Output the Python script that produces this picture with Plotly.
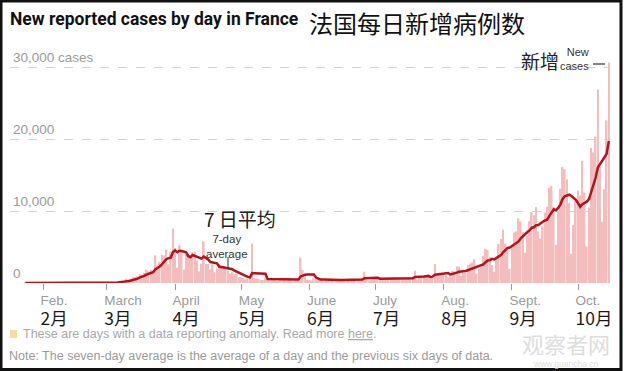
import pandas as pd
import plotly.graph_objects as go

# ---------------- data ----------------
start_date = "2020-01-24"
end_date = "2020-10-15"

cases_jan = [3, 0, 0, 0, 1, 0, 1, 0]
cases_feb = [0, 0, 0, 0, 0, 0, 0, 5, 0, 0, 0, 0, 0, 0, 1, 0, 0, 0, 0, 0, 0, 0, 0, 0, 0, 4, 20, 19, 43]
cases_mar = [30, 61, 13, 84, 92, 276, 301, 177, 83, 575, 497, 595, 785, 838, 924, 1210, 1097, 1404, 1861, 1617,
             1847, 1559, 3838, 2446, 2931, 3922, 3809, 4611, 2599, 4376, 7578]
cases_apr = [4861, 2116, 5233, 4267, 1873, 3912, 3777, 3881, 4286, 4342, 3114, 1613, 2673, 5800, 2633, 2641, 1900,
             2569, 1500, 2051, 2667, 2300, 2100, 1900, 1700, 1300, 1500, 1200, 1300, 830]
cases_may = [800, 700, 520, 600, 700, 5500, 700, 650, 550, 450, 400, 700, 500, 600, 550, 450, 350, 300, 650, 550,
             500, 550, 450, 350, 300, 550, 600, 3500, 1800, 1000, 450]
cases_jun = [400, 350, 650, 600, 550, 500, 400, 250, 350, 450, 500, 550, 450, 300, 250, 450, 500, 550, 450, 400,
             300, 450, 550, 600, 650, 1570, 500, 350, 500, 600]
cases_jul = [900, 700, 650, 550, 450, 600, 700, 750, 650, 700, 600, 500, 550, 700, 750, 800, 750, 650, 1700, 500,
             800, 900, 1000, 1100, 900, 700, 750, 2640, 1200, 1350, 1300]
cases_aug = [1350, 1100, 800, 1200, 1700, 1600, 2290, 2270, 1000, 1400, 1400, 2500, 2670, 2850, 3310, 1300, 2000,
             2200, 3780, 4770, 4590, 3600, 2500, 1550, 3300, 5430, 6110, 7380, 5450, 4900, 1960]
cases_sep = [4982, 7017, 7157, 8975, 8550, 7071, 4203, 6544, 8577, 9843, 9406, 10561, 7183, 6158, 7852, 9784, 10593,
             13215, 13498, 10569, 5298, 10008, 13072, 16096, 15797, 14412, 11123, 4070, 8051, 11398]
cases_oct = [12845, 12148, 16972, 12565, 5084, 10489, 18746, 18129, 20339, 26896, 16101, 8505, 12993, 22591, 30621]

avg_jan = [0.4, 0.4, 0.4, 0.4, 0.6, 0.6, 0.7, 0.3]
avg_feb = [0.3, 0.3, 0.3, 0.1, 0.1, 0, 0, 0.7, 0.7, 0.7, 0.7, 0.7, 0.7, 0.7, 0.1, 0.1, 0.1, 0.1, 0.1, 0.1, 0.1,
           0, 0, 0, 0, 0.6, 3.4, 6.1, 12.3]
avg_mar = [17, 25, 27, 39, 49, 86, 122, 143, 147, 227, 286, 358, 430, 507, 614, 775, 849, 979, 1160, 1279, 1423,
           1514, 1889, 2082, 2300, 2594, 2907, 3302, 3451, 3528, 4261]
avg_apr = [4537, 4279, 4482, 4433, 4329, 4263, 3720, 3580, 3890, 3763, 3598, 3561, 3384, 3673, 3494, 3259, 2911,
           2833, 2817, 2728, 2280, 2233, 2155, 2155, 2031, 2003, 1924, 1714, 1571, 1390]
avg_may = [1233, 1090, 979, 850, 779, 1379, 1360, 1339, 1317, 1307, 1279, 1279, 564, 550, 536, 521, 507, 493, 486,
           493, 479, 479, 479, 479, 479, 464, 471, 900, 1079, 1157, 1171]
avg_jun = [1186, 1157, 1164, 750, 571, 500, 493, 471, 471, 443, 429, 429, 421, 407, 407, 421, 429, 436, 421, 414,
           414, 443, 457, 471, 486, 646, 660, 667, 674, 681]
avg_jul = [724, 731, 600, 607, 621, 636, 650, 629, 621, 629, 636, 643, 636, 636, 636, 657, 664, 671, 843, 836, 850,
           871, 900, 950, 986, 843, 879, 1141, 1184, 1234, 1263]
avg_aug = [1327, 1384, 1391, 1186, 1257, 1293, 1434, 1566, 1551, 1637, 1666, 1780, 1933, 2013, 2161, 2204, 2290,
           2404, 2587, 2887, 3136, 3177, 3349, 3284, 3441, 3677, 3869, 4267, 4531, 4874, 4933]
avg_sep = [5173, 5400, 5549, 5777, 6220, 6530, 6851, 7074, 7297, 7680, 7742, 8029, 8045, 8325, 8511, 8684, 8791,
           9335, 9755, 10238, 10116, 10424, 10893, 11679, 12048, 12179, 12258, 12083, 11803, 11564]
avg_oct = [11099, 10578, 10944, 11150, 11295, 11643, 12693, 13448, 14618, 16035, 16541, 17029, 17387, 17936, 19721]

month_ticks = ["2020-02-01", "2020-03-01", "2020-04-01", "2020-05-01", "2020-06-01",
               "2020-07-01", "2020-08-01", "2020-09-01", "2020-10-01"]
month_en = ["Feb.", "March", "April", "May", "June", "July", "Aug.", "Sept.", "Oct."]
month_zh = ["2月", "3月", "4月", "5月", "6月", "7月", "8月", "9月", "10月"]

y_ticks = [0, 10000, 20000, 30000]
y_labels = ["0", "10,000", "20,000", "30,000 cases"]

daily = (cases_jan + cases_feb + cases_mar + cases_apr + cases_may + cases_jun + cases_jul + cases_aug
         + cases_sep + cases_oct)
avg7 = avg_jan + avg_feb + avg_mar + avg_apr + avg_may + avg_jun + avg_jul + avg_aug + avg_sep + avg_oct
dates = pd.date_range(start_date, end_date, freq="D")

# ---------------- layout helpers ----------------
W, H = 624, 371
L, R, T, B = 10, 14, 55, 88
PW, PH = W - L - R, H - T - B


def px(x):
    return (x - L) / PW


def py(y):
    return (H - B - y) / PH


CJK = "Noto Sans CJK SC"
SANS = "Liberation Sans"

fig = go.Figure()
fig.add_trace(go.Bar(x=dates, y=daily, marker=dict(color="#f4bdbd", line=dict(width=0)),
                     hoverinfo="x+y"))
fig.add_trace(go.Scatter(x=dates, y=avg7, mode="lines",
                         line=dict(color="#b5121b", width=2.5)))

ticktext = [f"<span style='font-size:13.5px'>{e}</span><br>"
            f"<span style='font-size:17.5px;color:#1a1a1a;font-family:{CJK}'>{z}</span>"
            for e, z in zip(month_en, month_zh)]

fig.update_layout(
    width=W, height=H,
    margin=dict(l=L, r=R, t=T, b=B, autoexpand=False),
    paper_bgcolor="white", plot_bgcolor="white",
    showlegend=False, bargap=0.25,
    xaxis=dict(
        type="date", range=["2020-01-17", "2020-10-15 12:45"],
        tickvals=month_ticks, ticktext=ticktext,
        ticks="outside", ticklen=6, tickcolor="#9a9a9a", tickwidth=1,
        ticklabelposition="outside right", ticklabelshift=-3, ticklabeloverflow="allow",
        ticklabelstandoff=3,
        tickfont=dict(family=SANS, size=15, color="#9a9a9a"),
        showgrid=False, zeroline=False, showline=False, automargin=False,
    ),
    yaxis=dict(
        range=[0, 31667], tickvals=y_ticks, ticktext=y_labels,
        ticklabelposition="inside top", ticklabeloverflow="allow",
        tickfont=dict(family=SANS, size=13.5, color="#9a9a9a"),
        showgrid=True, gridcolor="#d3d3d3", griddash="dash", gridwidth=1,
        zeroline=False, showline=False, ticks="", automargin=False,
    ),
)

ann = []


def add_text(text, x, y, size, color, family=SANS, xanchor="left", yanchor="middle", align="left"):
    ann.append(dict(text=text, x=px(x), y=py(y), xref="paper", yref="paper", showarrow=False,
                    xanchor=xanchor, yanchor=yanchor, align=align,
                    font=dict(family=family, size=size, color=color)))


add_text("<b>New reported cases by day in France</b>", 8, 19, 17.5, "#121212", family="Roboto")
add_text("法国每日新增病例数", 307, 22, 24, "#111111", family=CJK)
add_text("7 日平均", 240, 218, 19, "#222222", family=CJK, xanchor="center")
add_text("7-day<br>average", 227, 246, 11.5, "#333333", xanchor="center", align="center")
add_text("新增", 540, 61, 19, "#222222", family=CJK, xanchor="center")
add_text("New<br>cases", 591, 59, 11, "#333333", xanchor="right", align="right")
add_text("These are days with a data reporting anomaly. Read more <u>here</u>.", 21, 334, 12.5, "#a8a8a8")
add_text("Note: The seven-day average is the average of a day and the previous six days of data.",
         7, 356, 12.5, "#9a9a9a")
add_text("观察者网", 566, 343, 22, "#dddddd", family=CJK, xanchor="center")
add_text("www.guancha.cn", 566, 363.5, 8.5, "#dddddd", xanchor="center")

fig.update_layout(annotations=ann)

shapes = [
    dict(type="line", xref="paper", yref="paper", x0=px(228), x1=px(228), y0=py(257), y1=py(269),
         line=dict(color="#333333", width=1)),
    dict(type="line", xref="paper", yref="paper", x0=px(593), x1=px(605), y0=py(64), y1=py(64),
         line=dict(color="#333333", width=1.2)),
    dict(type="rect", xref="paper", yref="paper", x0=px(10), x1=px(17), y0=py(338), y1=py(330),
         fillcolor="#f5dca2", line=dict(width=0)),
    dict(type="rect", xref="paper", yref="paper", x0=px(1), x1=px(621), y0=py(369.5), y1=py(1),
         line=dict(color="#111111", width=3), fillcolor="rgba(0,0,0,0)"),
]
fig.update_layout(shapes=shapes)

fig.write_html("out.html", config={"displayModeBar": False},
               post_script="document.body.style.margin='0';")
